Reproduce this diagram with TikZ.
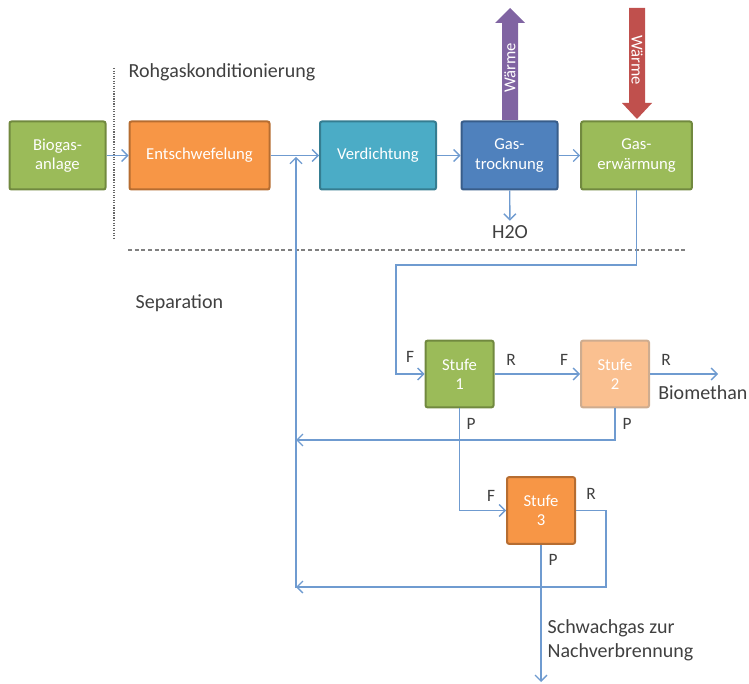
\documentclass[tikz,border=0pt]{standalone}
\usepackage{fontspec}
\setmainfont{Carlito}
\usetikzlibrary{arrows.meta}
\definecolor{linie}{HTML}{6F9BD0}
\definecolor{gruen}{HTML}{9BBB59}
\definecolor{gruenR}{HTML}{71893F}
\definecolor{orange}{HTML}{F79646}
\definecolor{orangeR}{HTML}{B66D31}
\definecolor{hellor}{HTML}{FAC090}
\definecolor{hellorR}{HTML}{B9895F}
\definecolor{tuerkis}{HTML}{4BACC6}
\definecolor{tuerkisR}{HTML}{357D91}
\definecolor{blau}{HTML}{4F81BD}
\definecolor{blauR}{HTML}{385D8A}
\definecolor{lila}{HTML}{8064A2}
\definecolor{rot}{HTML}{C0504D}
\definecolor{schrift}{HTML}{404040}
\begin{document}
\begin{tikzpicture}[
            x=0.75pt, y=-0.75pt,
            box/.style={draw, line width=1.5pt, rounded corners=1.5pt, text=white,
                align=center, font=\fontsize{12.5}{14.5}\selectfont, minimum height=51pt},
            stufebox/.style={box, minimum width=51pt, minimum height=50pt},
            fluss/.style={draw=linie, line width=1pt, -{Straight Barb[length=4.5pt,width=9pt]}},
            lab/.style={text=schrift, font=\fontsize{15}{18}\selectfont},
            klein/.style={text=schrift, font=\fontsize{13}{15}\selectfont},
            waerme/.style={text=white, font=\fontsize{12.5}{14}\selectfont}
        ]
            \useasboundingbox (0,0) rectangle (749,684);

            % Abschnitte
            \draw[schrift!80, line width=0.9pt, densely dotted] (114,68) -- (114,240);
            \draw[gray, line width=0.9pt, densely dashed] (128,250) -- (686,250);
            \node[lab, anchor=west] (rohgas) at (124,72) {Rohgaskonditionierung};
            \node[lab, anchor=west] (sep) at (131,303) {Separation};

            % Rohgaskonditionierung
            \node[box, fill=gruen, draw=gruenR, minimum width=72pt] (biogas) at (57.5,155.5) {Biogas-\\anlage};
            \node[box, fill=orange, draw=orangeR, minimum width=105pt] (entschw) at (199.5,155.5) {Entschwefelung};
            \node[box, fill=tuerkis, draw=tuerkisR, minimum width=87pt] (verd) at (378,155.5) {Verdichtung};
            \node[box, fill=blau, draw=blauR, minimum width=72pt] (trock) at (509.5,155.5) {Gas-\\trocknung};
            \node[box, fill=gruen, draw=gruenR, minimum width=83pt] (erw) at (636.5,155.5) {Gas-\\erwärmung};

            % Waermepfeile
            \fill[lila] (502,120) -- (502,23) -- (495,23) -- (510,8) -- (525,23) -- (518,23) -- (518,120) -- cycle;
            \node[waerme, rotate=90] (wab) at (510,68) {Wärme};
            \fill[rot] (629,8) -- (629,103) -- (622,103) -- (637,119) -- (652,103) -- (645,103) -- (645,8) -- cycle;
            \node[waerme, rotate=-90] (wzu) at (637,60) {Wärme};

            \node[lab] (wasser) at (510,232) {H2O};
            \coordinate (misch) at (296,155.5);

            \draw[fluss] (biogas) -- (entschw);
            \draw[fluss] (entschw) -- (verd);
            \draw[fluss] (verd) -- (trock);
            \draw[fluss] (trock) -- (erw);
            \draw[fluss] (trock) -- (wasser);

            % Separation
            \node[stufebox, fill=gruen, draw=gruenR] (stufe1) at (459.5,374) {Stufe\\1};
            \node[stufebox, fill=hellor, draw=hellorR!70] (stufe2) at (615,374) {Stufe\\2};
            \node[stufebox, fill=orange, draw=orangeR] (stufe3) at (541,510.5) {Stufe\\3};

            \coordinate (prod) at (718,374);
            \coordinate (rueck1) at (296,440);
            \coordinate (rueck2) at (296,587);
            \coordinate (schwach) at (541,682);

            \draw[fluss] (erw.south) -- (636.5,265) -- (396,265) |- (stufe1.west);
            \draw[fluss] (stufe1) -- (stufe2);
            \draw[fluss] (stufe2) -- (prod);
            \draw[fluss] (stufe1.south) |- (stufe3.west);
            \draw[fluss] (stufe2.south) |- (rueck1);
            \draw[fluss] (stufe3.east) -- (606,510.5) |- (rueck2);
            \draw[fluss] (stufe3.south) -- (schwach);
            \draw[fluss] (296,588) -- ([yshift=-1pt]misch);

            % Beschriftung der Stroeme
            \node[klein] (f1) at (410,357) {F};
            \node[klein] (r1) at (511,360) {R};
            \node[klein] (f2) at (564,360) {F};
            \node[klein] (r2) at (666,360) {R};
            \node[klein] (p1) at (471,424) {P};
            \node[klein] (p2) at (627,424) {P};
            \node[klein] (f3) at (491,496) {F};
            \node[klein] (r3) at (591,494) {R};
            \node[klein] (p3) at (553,560) {P};
            \node[lab, anchor=west, inner xsep=0pt] (methan) at (658,393) {Biomethan};
            \node[lab, anchor=west, align=left] (nachv) at (543,640) {Schwachgas zur\\Nachverbrennung};
        \end{tikzpicture}
\end{document}
